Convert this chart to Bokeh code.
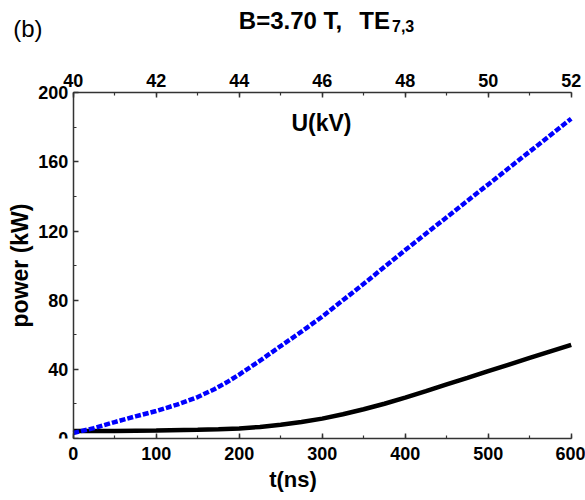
from bokeh.plotting import figure
from bokeh.models import Range1d, LinearAxis, SingleIntervalTicker, Label
from bokeh.embed import file_html
from bokeh.resources import INLINE

# --- data ---
t_black = [0, 50, 100, 150, 175, 200, 225, 250, 275, 300, 325, 350, 375, 400,
           425, 450, 475, 500, 525, 550, 575, 600]
p_black = [4.3, 4.4, 4.6, 5.0, 5.3, 5.8, 6.7, 8.0, 9.6, 11.5, 14.0, 16.9, 20.1,
           23.6, 27.4, 31.3, 35.1, 39.0, 42.8, 46.6, 50.4, 54.2]

t_blue = [0, 25, 50, 75, 100, 125, 150, 170, 185, 200, 225, 250, 275, 300,
          350, 400, 450, 500, 550, 600]
p_blue = [3.2, 6.0, 9.5, 12.8, 15.9, 19.6, 24.0, 28.5, 32.5, 37.0, 45.0, 53.5,
          61.8, 70.5, 89.5, 109.0, 128.0, 147.0, 166.0, 185.0]

t_axis = (0, 600)
p_axis = (0, 200)
u_axis = (40, 52)

title_left = "B=3.70 T,"
title_right = "TE"
title_sub = "7,3"
panel_tag = "(b)"
x_label = "t(ns)"
y_label = "power (kW)"
u_label = "U(kV)"

FONT = "Liberation Sans"

# layout geometry (pixels)
W, H = 585, 500
X0_PX, X1_PX = 72.7, 570.7      # pixel of t=0 and t=600
Y0_PX, Y1_PX = 438.0, 92.3      # pixel of P=0 and P=200
BOTTOM_BORDER = 62
TXT_SHIFT = 8.5                 # label baseline correction

kx = (X1_PX - X0_PX) / (t_axis[1] - t_axis[0])
ky = (Y0_PX - Y1_PX) / (p_axis[1] - p_axis[0])
t_lo = t_axis[0] - X0_PX / kx
t_hi = t_lo + W / kx
p_lo = p_axis[0]
p_hi = p_lo + (H - BOTTOM_BORDER) / ky
u_per_t = (u_axis[1] - u_axis[0]) / (t_axis[1] - t_axis[0])
u_lo = u_axis[0] + (t_lo - t_axis[0]) * u_per_t
u_hi = u_axis[0] + (t_hi - t_axis[0]) * u_per_t


def tx(px):
    return t_axis[0] + (px - X0_PX) / kx


def py(px):
    return p_axis[0] + (Y0_PX - (px - TXT_SHIFT)) / ky


p = figure(width=W, height=H, output_backend="svg", toolbar_location=None,
           x_range=Range1d(t_lo, t_hi), y_range=Range1d(p_lo, p_hi),
           min_border_left=0, min_border_right=0, min_border_top=0,
           min_border_bottom=BOTTOM_BORDER, x_axis_location="below",
           y_axis_location=None)
p.outline_line_color = None
p.xgrid.visible = False
p.ygrid.visible = False
p.background_fill_color = "white"
p.border_fill_color = "white"

p.extra_x_ranges = {"U": Range1d(u_lo, u_hi)}
top = LinearAxis(x_range_name="U", fixed_location=p_axis[1], bounds=u_axis)
p.add_layout(top, "above")
left = LinearAxis(fixed_location=t_axis[0], bounds=p_axis)
p.add_layout(left, "left")
bottom = p.below[0]
bottom.bounds = t_axis


def style(ax, ticker, standoff):
    ax.ticker = ticker
    ax.axis_line_color = "#333333"
    ax.axis_line_width = 1.5
    ax.major_tick_line_color = "#333333"
    ax.minor_tick_line_color = "#333333"
    ax.major_tick_line_width = 1.5
    ax.minor_tick_line_width = 1.2
    ax.major_tick_in = 5
    ax.major_tick_out = 0
    ax.minor_tick_in = 3
    ax.minor_tick_out = 0
    ax.major_label_text_font = FONT
    ax.major_label_text_font_style = "bold"
    ax.major_label_text_font_size = "18px"
    ax.major_label_text_color = "black"
    ax.major_label_standoff = standoff
    ax.axis_label_text_font = FONT
    ax.axis_label_text_font_style = "bold"
    ax.axis_label_text_font_size = "22px"
    ax.axis_label_text_color = "black"


style(bottom, SingleIntervalTicker(interval=100, num_minor_ticks=2), 8)
style(left, SingleIntervalTicker(interval=40, num_minor_ticks=2), 5)
style(top, SingleIntervalTicker(interval=2, num_minor_ticks=2), 6)

bottom.axis_label = x_label
bottom.axis_label_standoff = 4
left.axis_label = y_label
left.axis_label_standoff = 2
left.axis_label_text_font_size = "23px"

p.line(t_black, p_black, line_color="black", line_width=4.5)
p.line(t_blue, p_blue, line_color="#0000ff", line_width=4.5, line_dash="6 2")


def add_text(x_px, y_px, text, size, bold=True, align="left"):
    p.add_layout(Label(x=tx(x_px), y=py(y_px), text=text, text_font=FONT,
                       text_font_style="bold" if bold else "normal",
                       text_font_size=size, text_baseline="alphabetic",
                       text_align=align, text_color="black"))


add_text(238.3, 28.0, title_left, "24px")
add_text(389.5, 28.0, title_right, "24px", align="right")
add_text(391.5, 34.0, title_sub, "16px")
add_text(12.7, 36.0, panel_tag, "24px", bold=False)
add_text(321.0, 131.0, u_label, "23px", align="center")

open("out.html", "w").write(file_html(p, INLINE))
